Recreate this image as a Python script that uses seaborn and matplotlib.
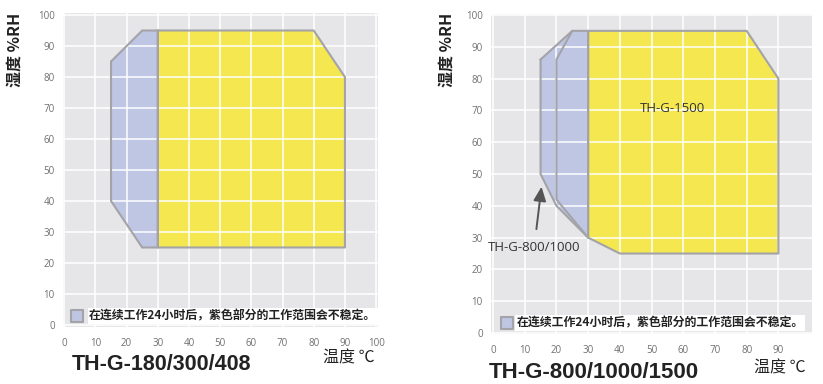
import matplotlib
matplotlib.use("Agg")
import matplotlib.pyplot as plt
import seaborn as sns
import pandas as pd

sns.set_theme(style="darkgrid")
plt.rcParams['font.family'] = ['Noto Sans CJK SC', 'DejaVu Sans']

# ---- data ----
# Left chart: TH-G-180/300/408
left_purple_x = [15, 20, 25, 30, 30, 25, 15, 15]
left_purple_y = [85, 90, 95, 95, 25, 25, 40, 85]
left_yellow_x = [30, 80, 90, 90, 30, 30]
left_yellow_y = [95, 95, 80, 25, 25, 95]

# Right chart: TH-G-800/1000/1500
right_purple_x = [15, 25, 30, 30, 20, 15, 15]
right_purple_y = [86, 95, 95, 30, 40, 50, 86]
right_inner_x = [25, 20, 20, 30]
right_inner_y = [95, 86, 42, 30]
right_yellow_x = [30, 80, 90, 90, 40, 30, 30]
right_yellow_y = [95, 95, 80, 25, 25, 30, 95]

left_xticks = [0, 10, 20, 30, 40, 50, 60, 70, 80, 90, 100]
right_xticks = [0, 10, 20, 30, 40, 50, 60, 70, 80, 90]
yticks = [0, 10, 20, 30, 40, 50, 60, 70, 80, 90, 100]

note = "在连续工作24小时后，紫色部分的工作范围会不稳定。"
ylabel = "湿度 %RH"
xlabel = "温度 ℃"
title_left = "TH-G-180/300/408"
title_right = "TH-G-800/1000/1500"
label_1500 = "TH-G-1500"
label_800 = "TH-G-800/1000"

YELLOW = "#F5E74F"
PURPLE = "#BEC6E4"
EDGE = "#A3A3A8"
BG = "#E6E6E8"

fig = plt.figure(figsize=(8.23, 3.84), dpi=100)
ax1 = fig.add_axes([63/823, 1-327/384, 315/823, 314/384])
ax2 = fig.add_axes([491/823, 1-334/384, 321/823, 320/384])


def style(ax, xticks, xlim, ylim):
    ax.set_facecolor(BG)
    ax.set_xlim(*xlim)
    ax.set_ylim(*ylim)
    ax.set_xticks(xticks)
    ax.set_yticks(yticks)
    ax.set_axisbelow(False)
    ax.grid(True, color="white", linewidth=1.1)
    ax.tick_params(axis="both", length=0, labelsize=7, labelcolor="#707070")
    ax.tick_params(axis="x", pad=8)
    ax.tick_params(axis="y", pad=6)
    for s in ax.spines.values():
        s.set_visible(False)
    ax.set_xlabel("")
    ax.set_ylabel("")
    for lab in ax.get_xticklabels() + ax.get_yticklabels():
        lab.set_family(['Open Sans', 'DejaVu Sans'])


def outline(ax, xs, ys):
    df = pd.DataFrame({"x": xs, "y": ys})
    sns.lineplot(data=df, x="x", y="y", sort=False, estimator=None, ax=ax,
                 color=EDGE, linewidth=1.5, zorder=3)


# left chart
ax1.fill(left_purple_x, left_purple_y, color=PURPLE, zorder=1, linewidth=0)
ax1.fill(left_yellow_x, left_yellow_y, color=YELLOW, zorder=1, linewidth=0)
outline(ax1, left_purple_x, left_purple_y)
outline(ax1, left_yellow_x, left_yellow_y)
style(ax1, left_xticks, (-0.4, 100.6), (-0.65, 100.65))

# right chart
ax2.fill(right_purple_x, right_purple_y, color=PURPLE, zorder=1, linewidth=0)
ax2.fill(right_yellow_x, right_yellow_y, color=YELLOW, zorder=1, linewidth=0)
outline(ax2, right_purple_x, right_purple_y)
outline(ax2, right_inner_x, right_inner_y)
outline(ax2, right_yellow_x, right_yellow_y)
style(ax2, right_xticks, (-0.63, 100.6), (-0.3, 100.3))

ax2.text(56.5, 70.5, label_1500, ha="center", va="center", fontsize=9.5,
         color="#333333", family=['Open Sans', 'DejaVu Sans'], zorder=5)
ax2.annotate(label_800, xy=(15.3, 46), xytext=(13, 27), ha="center", va="center",
             fontsize=9.5, color="#333333", family=['Open Sans', 'DejaVu Sans'], zorder=5,
             arrowprops=dict(arrowstyle="-|>,head_length=0.9,head_width=0.4",
                             color="#555555", lw=1.4, shrinkA=6, shrinkB=0))

# legend notes
for ax, x_sq, y_sq, x_tx in ((ax1, 4.2, 2.9, 8.0), (ax2, 4.3, 3.1, 7.4)):
    ax.scatter([x_sq], [y_sq], marker="s", s=75, color=PURPLE, edgecolor=EDGE,
               linewidth=1.5, zorder=5)
    ax.text(x_tx, y_sq, note, ha="left", va="center", fontsize=8.6,
            fontweight="bold", color="#222222", zorder=5,
            bbox=dict(boxstyle="square,pad=0.12", facecolor="white", edgecolor="none"))

# axis labels and titles
for xpix in (15, 447):
    fig.text(xpix/823, 1-50/384, ylabel, rotation=90, ha="center", va="center",
             fontsize=11.5, fontweight="bold", color="#222222")
fig.text(349/823, 1-358/384, xlabel, ha="center", va="center", fontsize=11.5, color="#222222")
fig.text(780/823, 1-368/384, xlabel, ha="center", va="center", fontsize=11.5, color="#222222")
fig.text(72/823, 1-365/384, title_left, ha="left", va="center", fontsize=15.5,
         fontweight="bold", color="#222222", family=['Liberation Sans', 'DejaVu Sans'])
fig.text(489/823, 1-372/384, title_right, ha="left", va="center", fontsize=16,
         fontweight="bold", color="#222222", family=['Liberation Sans', 'DejaVu Sans'])

fig.savefig("out.png", dpi=100)
